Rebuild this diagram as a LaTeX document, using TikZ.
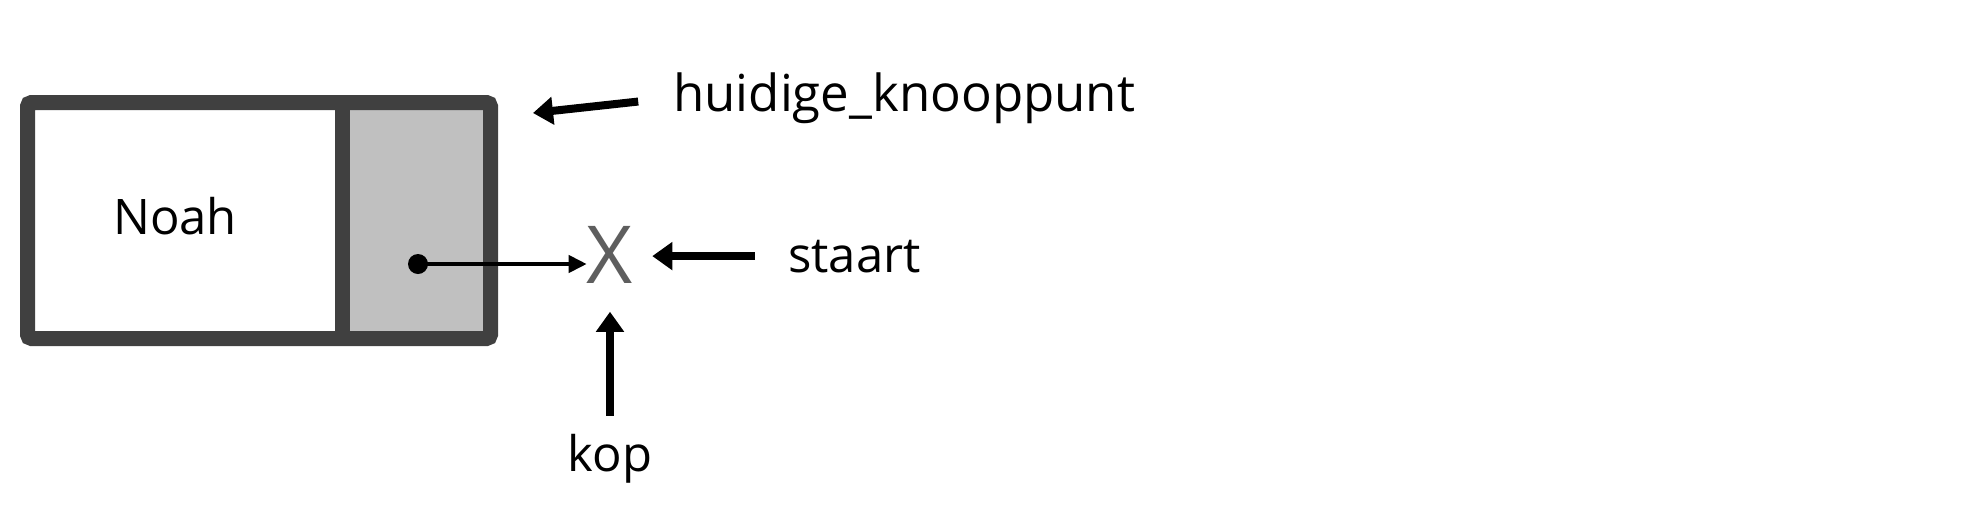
\documentclass[tikz,border=0pt]{standalone}
\usepackage{fontspec}
\setmainfont{Open Sans}
\usepackage{tikz}
\usetikzlibrary{positioning, arrows.meta}

\definecolor{randgrijs}{HTML}{404040}
\definecolor{celgrijs}{HTML}{C0C0C0}
\definecolor{kruisgrijs}{HTML}{5E5E5E}

\begin{document}
\begin{tikzpicture}[x=1pt, y=-1pt,
    cel/.style={minimum height=236pt, inner sep=0pt, outer sep=0pt},
    rand/.style={line width=15pt, randgrijs},
    etiket/.style={inner sep=0pt, font=\fontsize{49}{58}\selectfont},
    pijl/.style={line width=4pt, -{Triangle[length=18pt, width=17pt]}},
    dikkepijl/.style={line width=8pt, -{Triangle[length=20pt, width=27pt]}}]

\useasboundingbox (0,0) rectangle (1988,528);

% =========================
% Knooppunt
% =========================
\node[cel, minimum width=315pt,
      label={[etiket, xshift=-10pt, yshift=4pt]center:Noah}] (waarde) at (185,220.5) {};
\node[cel, minimum width=148pt, fill=celgrijs, right=0pt of waarde] (volgende) {};

% Rand en scheiding
\draw[rand, rounded corners=4pt] (waarde.north west) rectangle (volgende.south east);
\draw[rand] (waarde.north east) -- (waarde.south east);

% Verwijzing
\node[circle, fill=black, inner sep=0pt, minimum size=20pt] (punt) at (418,264) {};
\node[inner sep=0pt, text=kruisgrijs, font=\fontsize{80}{96}\selectfont] (kruis) at (610,255) {X};
\draw[pijl] (punt.center) -- (punt -| kruis.west);

% =========================
% Labels
% =========================
\node[etiket, anchor=base west, font=\fontsize{51}{60}\selectfont] (huidig) at (673,111) {huidige\_knooppunt};
\node[etiket, anchor=base west] (staart) at (788,272) {staart};
\node[etiket, anchor=base] (kop) at (610,471) {kop};

% Pijlen naar de labels
\coordinate (huidigpunt) at (533,113);
\draw[dikkepijl, shorten <=35pt] (huidig.west) -- (huidigpunt);
\draw[dikkepijl, shorten <=33pt, shorten >=19pt] (staart.west) -- (staart.west -| kruis.east);
\draw[dikkepijl, shorten <=18pt, shorten >=28pt] (kop.north) -- (kruis.south);

\end{tikzpicture}
\end{document}
